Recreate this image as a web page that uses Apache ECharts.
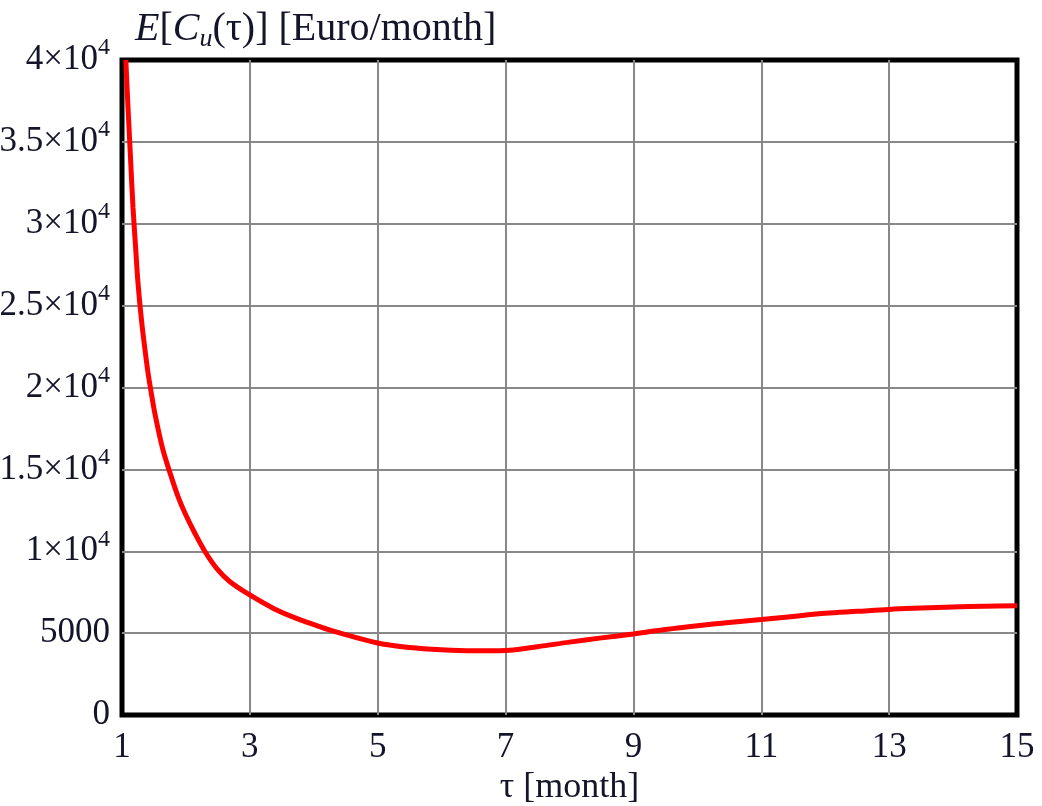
<!DOCTYPE html>
<html>
<head>
<meta charset="utf-8">
<script src="https://cdn.jsdelivr.net/npm/echarts@6/dist/echarts.min.js"></script>
<style>
  html, body { margin: 0; padding: 0; background: #fff; }
  #chart { width: 1042px; height: 806px; }
</style>
</head>
<body>
<div id="chart"></div>
<script>
// ---- data ----
const tau = [1.06, 1.089, 1.136, 1.172, 1.214, 1.25, 1.308, 1.36, 1.407, 1.465, 1.52, 1.64, 1.75, 1.88, 1.986, 2.14, 2.3, 2.48, 2.69, 3.0, 3.37, 3.73, 4.1, 4.39, 5.0, 5.5, 6.0, 6.5, 7.0, 7.5, 8.0, 8.5, 9.0, 9.5, 10.0, 10.5, 11.0, 11.5, 12.0, 12.5, 13.0, 13.5, 14.0, 14.5, 15.0];
const cost = [40000, 37500, 33800, 31000, 28500, 26400, 24000, 22300, 20900, 19500, 18300, 16200, 14800, 13300, 12320, 11100, 9970, 8960, 8140, 7330, 6510, 5900, 5390, 5030, 4400, 4120, 3980, 3920, 3940, 4170, 4450, 4710, 4950, 5220, 5450, 5650, 5830, 6020, 6210, 6330, 6450, 6530, 6600, 6640, 6670];
const xTickLabels = ['1', '3', '5', '7', '9', '11', '13', '15'];
const xName = 'τ [month]';
const yTitle = '{i|E}{n|[}{i|C}{sub|u}{n|(τ)] [Euro/month]}';

const X0 = 1; // axis origin (τ = 1); axis runs in offset units so ticks land on 1,3,5,...

const FONT = '"Liberation Serif", "DejaVu Serif", serif';
const TXT = '#14142a';

const chart = echarts.init(document.getElementById('chart'), null, { renderer: 'canvas' });

chart.setOption({
  animation: false,
  backgroundColor: '#ffffff',
  title: {
    text: yTitle,
    left: 130,
    top: 1,
    textStyle: {
      fontWeight: 'normal',
      rich: {
        n: { fontFamily: FONT, fontSize: 40, fontWeight: 'normal', color: TXT, lineHeight: 46 },
        i: { fontFamily: FONT, fontSize: 40, fontWeight: 'normal', color: TXT, fontStyle: 'italic', lineHeight: 46 },
        sub: { fontFamily: FONT, fontSize: 26, fontWeight: 'normal', color: TXT, fontStyle: 'italic', lineHeight: 24, verticalAlign: 'bottom' }
      }
    }
  },
  grid: {
    left: 122, right: 25, top: 60, bottom: 91,
    show: true,
    borderColor: '#000',
    borderWidth: 5,
    backgroundColor: 'transparent',
    containLabel: false,
    outerBoundsMode: 'none'
  },
  xAxis: {
    type: 'value',
    min: 0,
    max: 14,
    interval: 2,
    name: xName,
    nameLocation: 'middle',
    nameGap: 51,
    nameTextStyle: { fontFamily: FONT, fontSize: 36, color: TXT },
    axisLine: { show: false },
    axisTick: { show: false },
    axisLabel: {
      margin: 15,
      fontFamily: FONT, fontSize: 35, color: TXT,
      formatter: function (v) { return xTickLabels[Math.round(v / 2)]; }
    },
    splitLine: { show: true, showMinLine: false, showMaxLine: false, lineStyle: { color: '#888', width: 2 } }
  },
  yAxis: {
    type: 'value',
    min: 0,
    max: 40000,
    interval: 5000,
    axisLine: { show: false },
    axisTick: { show: false },
    axisLabel: {
      margin: 12,
      formatter: function (v) {
        if (v === 0 || v === 5000) return '{b|' + v + '}';
        return '{b|' + (v / 10000) + '×10}{s|4}';
      },
      rich: {
        b: { fontFamily: FONT, fontSize: 35, color: TXT, lineHeight: 48 },
        s: { fontFamily: FONT, fontSize: 24, color: TXT, lineHeight: 20, verticalAlign: 'top' }
      }
    },
    splitLine: { show: true, showMinLine: false, showMaxLine: false, lineStyle: { color: '#888', width: 2 } }
  },
  series: [{
    type: 'line',
    data: tau.map(function (t, k) { return [t - X0, cost[k]]; }),
    showSymbol: false,
    smooth: 0.35,
    lineStyle: { color: '#ff0000', width: 5 },
    clip: true,
    z: 3
  }]
});
</script>
</body>
</html>
